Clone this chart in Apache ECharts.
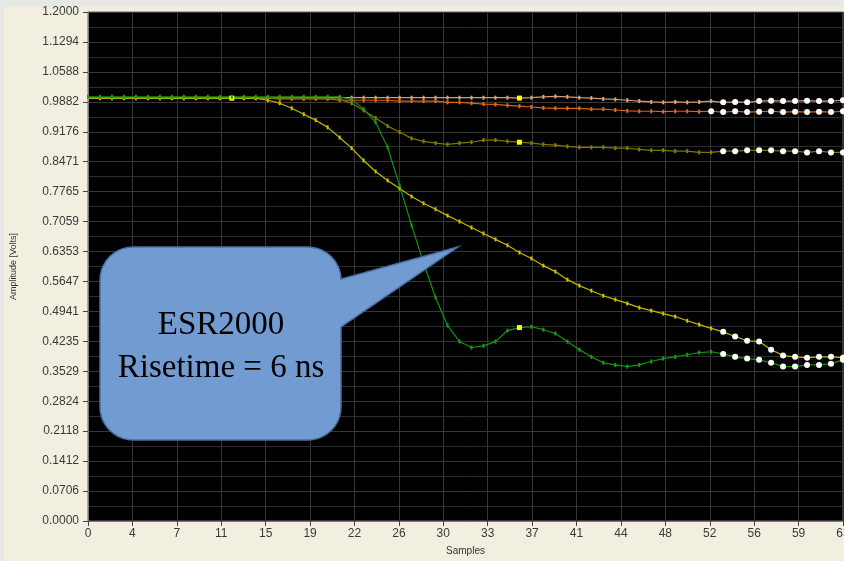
<!DOCTYPE html>
<html>
<head>
<meta charset="utf-8">
<script src="https://cdn.jsdelivr.net/npm/echarts@6/dist/echarts.min.js"></script>
<style>
html,body{margin:0;padding:0;background:#F2EFE0;}
#chart{width:844px;height:561px;}
</style>
</head>
<body>
<div id="chart"></div>
<script>
// ---- data ----
const samples = [0,1,2,3,4,5,6,7,8,9,10,11,12,13,14,15,16,17,18,19,20,21,22,23,24,25,26,27,28,29,30,31,32,33,34,35,36,37,38,39,40,41,42,43,44,45,46,47,48,49,50,51,52,53,54,55,56,57,58,59,60,61,62,63];

const peach = [
0.997,0.997,0.997,0.997,0.997,0.997,0.997,0.997,0.997,0.997,
0.997,0.997,0.997,0.997,0.997,0.997,0.998,0.998,0.998,0.998,
0.998,0.998,0.998,0.998,0.998,0.998,0.998,0.998,0.998,0.998,
0.998,0.998,0.998,0.998,0.998,0.998,0.997,0.998,1.000,1.001,
1.000,0.998,0.997,0.995,0.994,0.992,0.990,0.988,0.987,0.988,
0.987,0.988,0.990,0.987,0.988,0.987,0.990,0.991,0.990,0.990,
0.991,0.990,0.990,0.992];

const orange = [
0.997,0.997,0.997,0.997,0.997,0.997,0.997,0.997,0.997,0.997,
0.997,0.997,0.997,0.997,0.997,0.997,0.995,0.995,0.995,0.995,
0.995,0.992,0.992,0.992,0.992,0.992,0.990,0.990,0.990,0.990,
0.987,0.987,0.985,0.983,0.982,0.980,0.978,0.976,0.974,0.973,
0.973,0.973,0.971,0.971,0.969,0.967,0.966,0.966,0.965,0.966,
0.966,0.965,0.966,0.964,0.966,0.964,0.965,0.966,0.964,0.965,
0.964,0.965,0.964,0.966];

const olive = [
0.997,0.997,0.997,0.997,0.997,0.997,0.997,0.997,0.997,0.997,
0.997,0.997,0.997,0.997,0.997,0.997,0.997,0.997,0.997,0.997,
0.997,0.994,0.985,0.968,0.950,0.931,0.917,0.902,0.895,0.891,
0.888,0.891,0.893,0.898,0.898,0.895,0.893,0.891,0.888,0.886,
0.883,0.881,0.881,0.881,0.879,0.879,0.876,0.874,0.874,0.872,
0.872,0.869,0.869,0.872,0.872,0.874,0.874,0.874,0.872,0.872,
0.869,0.872,0.869,0.869];

const yellow = [
0.997,0.997,0.997,0.997,0.997,0.997,0.997,0.997,0.997,0.997,
0.997,0.997,0.997,0.997,0.997,0.992,0.985,0.973,0.959,0.945,
0.928,0.904,0.879,0.850,0.824,0.803,0.784,0.765,0.749,0.735,
0.720,0.706,0.692,0.678,0.664,0.650,0.633,0.619,0.602,0.588,
0.569,0.555,0.543,0.531,0.522,0.513,0.503,0.496,0.489,0.482,
0.472,0.463,0.454,0.446,0.435,0.425,0.423,0.404,0.390,0.387,
0.385,0.387,0.387,0.385];

const green = [
1.000,1.000,1.000,1.000,1.000,1.000,1.000,1.000,1.000,1.000,
1.000,1.000,1.000,1.000,1.000,1.000,1.000,1.000,1.000,1.000,
1.000,1.000,0.994,0.971,0.940,0.881,0.791,0.697,0.609,0.527,
0.461,0.423,0.409,0.413,0.423,0.449,0.456,0.458,0.451,0.442,
0.423,0.404,0.387,0.373,0.368,0.364,0.368,0.376,0.383,0.387,
0.392,0.397,0.399,0.394,0.387,0.383,0.380,0.373,0.364,0.364,
0.368,0.368,0.371,0.380];

const yTickCount = 17;
const xMin = 0, xMax = 63, yMin = 0, yMax = 1.2;
const calloutLines = ['ESR2000', 'Risetime = 6 ns'];

// ---- series definitions: name, values, line colour, marker colour, cursor index, first white-marker index
const seriesDefs = [
  {name:'ch1', values:peach,  line:'#D39A74', mark:'#DCA47E', cursor:36, whiteFrom:53},
  {name:'ch2', values:orange, line:'#DA6410', mark:'#E06C16', cursor:-1, whiteFrom:52},
  {name:'ch3', values:olive,  line:'#7A7600', mark:'#848000', cursor:36, whiteFrom:53},
  {name:'ch4', values:yellow, line:'#C2B800', mark:'#CCC200', cursor:12, whiteFrom:53},
  {name:'ch5', values:green,  line:'#129412', mark:'#179E17', cursor:36, whiteFrom:53}
];

function buildData(def){
  return def.values.map((v,i)=>{
    const item = {value:[samples[i], v]};
    if (i >= def.whiteFrom) {
      item.symbol = 'circle'; item.symbolSize = 6;
      item.itemStyle = {color:'#FFFFFF'};
    } else if (i === def.cursor) {
      item.symbol = 'rect'; item.symbolSize = 5;
      item.itemStyle = {color:'#FFFF00'};
    }
    return item;
  });
}

// callout polygon (annotation shape)
function calloutPoints(x0,y0,x1,y1,r,pa,tip,pb){
  const pts=[];
  function arc(cx,cy,a0,a1){
    for(let k=0;k<=10;k++){
      const a=(a0+(a1-a0)*k/10)*Math.PI/180;
      pts.push([cx+r*Math.cos(a), cy+r*Math.sin(a)]);
    }
  }
  arc(x0+r,y0+r,180,270);
  arc(x1-r,y0+r,270,360);
  pts.push([x1,pa]); pts.push(tip); pts.push([x1,pb]);
  arc(x1-r,y1-r,0,90);
  arc(x0+r,y1-r,90,180);
  return pts;
}

const chart = echarts.init(document.getElementById('chart'), null, {renderer:'canvas'});
const axisLabelStyle = {color:'#3a3a3a', fontSize:12, fontFamily:'"Liberation Sans", Arial, sans-serif'};

chart.setOption({
  backgroundColor:'#F2EFE0',
  animation:false,
  grid:{left:88, right:1, top:12, bottom:40, outerBoundsMode:'none', containLabel:false,
        show:true, backgroundColor:'#000000', borderColor:'#6a6a6a', borderWidth:1},
  xAxis:{
    type:'value', min:xMin, max:xMax, interval:(xMax-xMin)/yTickCount,
    name:'Samples', nameLocation:'middle', nameGap:25,
    nameTextStyle:{color:'#333', fontSize:10, fontFamily:'"Liberation Sans", Arial, sans-serif'},
    axisLine:{show:true, lineStyle:{color:'#7a7a7a'}},
    axisTick:{show:true, length:5, lineStyle:{color:'#444'}},
    axisLabel:Object.assign({formatter:v=>String(Math.round(v)), margin:7, showMaxLabel:true, hideOverlap:false}, axisLabelStyle),
    splitLine:{show:true, lineStyle:{color:'#363636', width:1}}
  },
  yAxis:{
    type:'value', min:yMin, max:yMax, interval:(yMax-yMin)/yTickCount,
    name:'Amplitude [Volts]', nameLocation:'middle', nameGap:70,
    nameTextStyle:{color:'#333', fontSize:9, fontFamily:'"Liberation Sans Narrow", "Liberation Sans", Arial, sans-serif'},
    axisLine:{show:true, lineStyle:{color:'#7a7a7a'}},
    axisTick:{show:true, length:5, lineStyle:{color:'#444'}},
    axisLabel:Object.assign({formatter:v=>v.toFixed(4), margin:9}, axisLabelStyle),
    splitLine:{show:true, lineStyle:{color:'#363636', width:1}},
    minorTick:{show:false, splitNumber:2},
    minorSplitLine:{show:true, lineStyle:{color:'#2c2c2c', width:1}}
  },
  series: seriesDefs.map(def=>({
    name:def.name, type:'line', data:buildData(def),
    symbol:'rect', symbolSize:[2,4], showSymbol:true,
    lineStyle:{color:def.line, width:1.2},
    itemStyle:{color:def.mark},
    emphasis:{disabled:true}
  })),
  graphic:[
    {type:'rect', shape:{x:0,y:0,width:844,height:7}, style:{fill:'#E8E8E6'}, silent:true},
    {type:'rect', shape:{x:0,y:0,width:4,height:561}, style:{fill:'#E8E8E6'}, silent:true},
    {type:'polygon', z:100,
      shape:{points:calloutPoints(100,247,341,440,33,279,[458,247],327)},
      style:{fill:'#729BD1', stroke:'#4471A6', lineWidth:1.5}},
    {type:'text', z:101, x:221, y:325,
      style:{text:calloutLines[0], fill:'#000', font:'33px "Liberation Serif", serif', align:'center', verticalAlign:'middle'}},
    {type:'text', z:101, x:221, y:368,
      style:{text:calloutLines[1], fill:'#000', font:'33px "Liberation Serif", serif', align:'center', verticalAlign:'middle'}}
  ]
});
</script>
</body>
</html>
